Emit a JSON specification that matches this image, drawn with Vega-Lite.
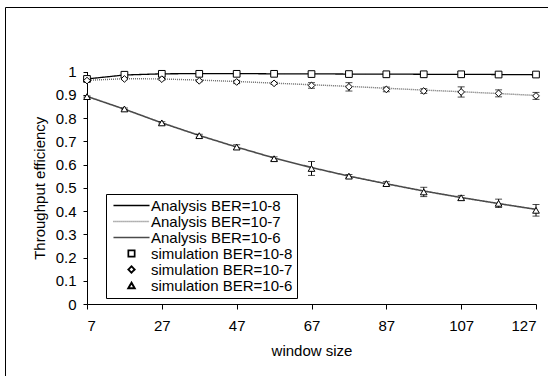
{
  "$schema": "https://vega.github.io/schema/vega-lite/v6.json",
  "width": 560,
  "height": 380,
  "autosize": "none",
  "padding": {"left": 5, "top": 7, "right": 0, "bottom": 0},
  "background": "white",
  "config": {
    "view": {"stroke": "#000000", "strokeWidth": 1},
    "font": "Liberation Sans",
    "axis": {"grid": false, "domainColor": "#000000", "tickColor": "#000000", "labelColor": "#000000", "titleColor": "#000000", "labelFontSize": 15, "titleFontSize": 15, "titleFontWeight": "normal", "labelFont": "Liberation Sans", "titleFont": "Liberation Sans", "labelOverlap": false},
    "axisY": {"tickCount": 11, "values": [0, 0.1, 0.2, 0.3, 0.4, 0.5, 0.6, 0.7, 0.8, 0.9, 1]},
    "legend": {"labelFont": "Liberation Sans", "labelFontSize": 15, "labelColor": "#000000"}
  },
  "datasets": {
    "analysis": [
      {"w": 7, "series": "Analysis BER=10-8", "v": 0.968},
      {"w": 17, "series": "Analysis BER=10-8", "v": 0.985},
      {"w": 27, "series": "Analysis BER=10-8", "v": 0.99},
      {"w": 37, "series": "Analysis BER=10-8", "v": 0.991},
      {"w": 47, "series": "Analysis BER=10-8", "v": 0.991},
      {"w": 57, "series": "Analysis BER=10-8", "v": 0.99},
      {"w": 67, "series": "Analysis BER=10-8", "v": 0.99},
      {"w": 77, "series": "Analysis BER=10-8", "v": 0.989},
      {"w": 87, "series": "Analysis BER=10-8", "v": 0.989},
      {"w": 97, "series": "Analysis BER=10-8", "v": 0.988},
      {"w": 107, "series": "Analysis BER=10-8", "v": 0.988},
      {"w": 117, "series": "Analysis BER=10-8", "v": 0.987},
      {"w": 127, "series": "Analysis BER=10-8", "v": 0.986},
      {"w": 7, "series": "Analysis BER=10-7", "v": 0.962},
      {"w": 17, "series": "Analysis BER=10-7", "v": 0.969},
      {"w": 27, "series": "Analysis BER=10-7", "v": 0.968},
      {"w": 37, "series": "Analysis BER=10-7", "v": 0.963},
      {"w": 47, "series": "Analysis BER=10-7", "v": 0.957},
      {"w": 57, "series": "Analysis BER=10-7", "v": 0.95},
      {"w": 67, "series": "Analysis BER=10-7", "v": 0.943},
      {"w": 77, "series": "Analysis BER=10-7", "v": 0.936},
      {"w": 87, "series": "Analysis BER=10-7", "v": 0.928},
      {"w": 97, "series": "Analysis BER=10-7", "v": 0.92},
      {"w": 107, "series": "Analysis BER=10-7", "v": 0.913},
      {"w": 117, "series": "Analysis BER=10-7", "v": 0.905},
      {"w": 127, "series": "Analysis BER=10-7", "v": 0.897},
      {"w": 7, "series": "Analysis BER=10-6", "v": 0.893},
      {"w": 17, "series": "Analysis BER=10-6", "v": 0.838},
      {"w": 27, "series": "Analysis BER=10-6", "v": 0.779},
      {"w": 37, "series": "Analysis BER=10-6", "v": 0.725},
      {"w": 47, "series": "Analysis BER=10-6", "v": 0.675},
      {"w": 57, "series": "Analysis BER=10-6", "v": 0.628},
      {"w": 67, "series": "Analysis BER=10-6", "v": 0.587},
      {"w": 77, "series": "Analysis BER=10-6", "v": 0.55},
      {"w": 87, "series": "Analysis BER=10-6", "v": 0.517},
      {"w": 97, "series": "Analysis BER=10-6", "v": 0.486},
      {"w": 107, "series": "Analysis BER=10-6", "v": 0.458},
      {"w": 117, "series": "Analysis BER=10-6", "v": 0.432},
      {"w": 127, "series": "Analysis BER=10-6", "v": 0.407}
    ],
    "sim": [
      {"w": 7, "series": "simulation BER=10-8", "v": 0.968, "lo": 0.966, "hi": 0.97},
      {"w": 17, "series": "simulation BER=10-8", "v": 0.986, "lo": 0.984, "hi": 0.988},
      {"w": 27, "series": "simulation BER=10-8", "v": 0.99, "lo": 0.988, "hi": 0.992},
      {"w": 37, "series": "simulation BER=10-8", "v": 0.99, "lo": 0.988, "hi": 0.992},
      {"w": 47, "series": "simulation BER=10-8", "v": 0.99, "lo": 0.988, "hi": 0.992},
      {"w": 57, "series": "simulation BER=10-8", "v": 0.99, "lo": 0.988, "hi": 0.992},
      {"w": 67, "series": "simulation BER=10-8", "v": 0.989, "lo": 0.987, "hi": 0.991},
      {"w": 77, "series": "simulation BER=10-8", "v": 0.989, "lo": 0.987, "hi": 0.991},
      {"w": 87, "series": "simulation BER=10-8", "v": 0.988, "lo": 0.986, "hi": 0.99},
      {"w": 97, "series": "simulation BER=10-8", "v": 0.988, "lo": 0.986, "hi": 0.99},
      {"w": 107, "series": "simulation BER=10-8", "v": 0.988, "lo": 0.986, "hi": 0.99},
      {"w": 117, "series": "simulation BER=10-8", "v": 0.987, "lo": 0.985, "hi": 0.989},
      {"w": 127, "series": "simulation BER=10-8", "v": 0.987, "lo": 0.984, "hi": 0.99},
      {"w": 7, "series": "simulation BER=10-7", "v": 0.961, "lo": 0.958, "hi": 0.964},
      {"w": 17, "series": "simulation BER=10-7", "v": 0.968, "lo": 0.965, "hi": 0.971},
      {"w": 27, "series": "simulation BER=10-7", "v": 0.967, "lo": 0.963, "hi": 0.971},
      {"w": 37, "series": "simulation BER=10-7", "v": 0.96, "lo": 0.956, "hi": 0.964},
      {"w": 47, "series": "simulation BER=10-7", "v": 0.955, "lo": 0.948, "hi": 0.962},
      {"w": 57, "series": "simulation BER=10-7", "v": 0.949, "lo": 0.944, "hi": 0.954},
      {"w": 67, "series": "simulation BER=10-7", "v": 0.94, "lo": 0.928, "hi": 0.952},
      {"w": 77, "series": "simulation BER=10-7", "v": 0.934, "lo": 0.916, "hi": 0.952},
      {"w": 87, "series": "simulation BER=10-7", "v": 0.923, "lo": 0.913, "hi": 0.933},
      {"w": 97, "series": "simulation BER=10-7", "v": 0.916, "lo": 0.906, "hi": 0.926},
      {"w": 107, "series": "simulation BER=10-7", "v": 0.912, "lo": 0.89, "hi": 0.934},
      {"w": 117, "series": "simulation BER=10-7", "v": 0.906, "lo": 0.891, "hi": 0.921},
      {"w": 127, "series": "simulation BER=10-7", "v": 0.895, "lo": 0.88, "hi": 0.91},
      {"w": 7, "series": "simulation BER=10-6", "v": 0.892, "lo": 0.889, "hi": 0.895},
      {"w": 17, "series": "simulation BER=10-6", "v": 0.839, "lo": 0.835, "hi": 0.843},
      {"w": 27, "series": "simulation BER=10-6", "v": 0.779, "lo": 0.774, "hi": 0.784},
      {"w": 37, "series": "simulation BER=10-6", "v": 0.724, "lo": 0.718, "hi": 0.73},
      {"w": 47, "series": "simulation BER=10-6", "v": 0.675, "lo": 0.665, "hi": 0.685},
      {"w": 57, "series": "simulation BER=10-6", "v": 0.625, "lo": 0.617, "hi": 0.633},
      {"w": 67, "series": "simulation BER=10-6", "v": 0.583, "lo": 0.553, "hi": 0.613},
      {"w": 77, "series": "simulation BER=10-6", "v": 0.55, "lo": 0.543, "hi": 0.557},
      {"w": 87, "series": "simulation BER=10-6", "v": 0.518, "lo": 0.51, "hi": 0.526},
      {"w": 97, "series": "simulation BER=10-6", "v": 0.482, "lo": 0.462, "hi": 0.502},
      {"w": 107, "series": "simulation BER=10-6", "v": 0.457, "lo": 0.447, "hi": 0.467},
      {"w": 117, "series": "simulation BER=10-6", "v": 0.433, "lo": 0.415, "hi": 0.451},
      {"w": 127, "series": "simulation BER=10-6", "v": 0.403, "lo": 0.378, "hi": 0.428}
    ]
  },
  "layer": [
    {
      "data": {"name": "analysis"},
      "mark": {"type": "line", "strokeCap": "butt"},
      "encoding": {
        "x": {"field": "w", "type": "quantitative",
          "scale": {"domain": [7, 127], "range": [82, 531], "nice": false, "zero": false},
          "axis": {"title": "window size", "values": [7, 27, 47, 67, 87, 107, 127], "offset": -83, "tickSize": 5, "labelPadding": 9, "titlePadding": 10, "format": "d"}},
        "y": {"field": "v", "type": "quantitative",
          "scale": {"domain": [0, 1], "range": [297, 64.5], "nice": false, "zero": false},
          "axis": {"title": "Throughput efficiency", "values": [0, 0.1, 0.2, 0.3, 0.4, 0.5, 0.6, 0.7, 0.8, 0.9, 1], "format": "~g", "offset": -82, "tickSize": 4, "labelPadding": 7, "titlePadding": 8}},
        "detail": {"field": "series"},
        "color": {"field": "series", "type": "nominal",
          "scale": {"domain": ["Analysis BER=10-8", "Analysis BER=10-7", "Analysis BER=10-6", "simulation BER=10-8", "simulation BER=10-7", "simulation BER=10-6"],
                    "range": ["#000000", "#6a6a6a", "#4a4a4a", "#000000", "#000000", "#000000"]},
          "legend": {"title": null, "orient": "none", "legendX": 101, "legendY": 187, "strokeColor": "#000000", "fillColor": "#ffffff", "padding": 4, "rowPadding": -0.8, "symbolOffset": 14, "labelOffset": 12, "encode": {"symbols": {"update": {"fill": {"value": "#ffffff"}}}}}},
        "strokeDash": {"field": "series", "type": "nominal",
          "scale": {"domain": ["Analysis BER=10-8", "Analysis BER=10-7", "Analysis BER=10-6", "simulation BER=10-8", "simulation BER=10-7", "simulation BER=10-6"],
                    "range": [[1, 0], [1, 1], [1, 0], [1, 0], [1, 0], [1, 0]]},
          "legend": {"title": null, "orient": "none", "legendX": 101, "legendY": 187, "strokeColor": "#000000", "fillColor": "#ffffff", "padding": 4, "rowPadding": -0.8, "symbolOffset": 14, "labelOffset": 12, "encode": {"symbols": {"update": {"fill": {"value": "#ffffff"}}}}}},
        "strokeWidth": {"field": "series", "type": "nominal",
          "scale": {"domain": ["Analysis BER=10-8", "Analysis BER=10-7", "Analysis BER=10-6", "simulation BER=10-8", "simulation BER=10-7", "simulation BER=10-6"],
                    "range": [1.3, 2, 2.6, 1, 1, 1]},
          "legend": {"title": null, "orient": "none", "legendX": 101, "legendY": 187, "strokeColor": "#000000", "fillColor": "#ffffff", "padding": 4, "rowPadding": -0.8, "symbolOffset": 14, "labelOffset": 12, "encode": {"symbols": {"update": {"fill": {"value": "#ffffff"}}}}}}
      }
    },
    {
      "data": {"name": "sim"},
      "mark": {"type": "rule", "color": "#000000", "strokeWidth": 1},
      "encoding": {
        "x": {"field": "w", "type": "quantitative"},
        "y": {"field": "lo", "type": "quantitative", "axis": {"title": "Throughput efficiency", "values": [0, 0.1, 0.2, 0.3, 0.4, 0.5, 0.6, 0.7, 0.8, 0.9, 1], "format": "~g", "offset": -82, "tickSize": 4, "labelPadding": 7, "titlePadding": 8}},
        "y2": {"field": "hi"}
      }
    },
    {
      "data": {"name": "sim"},
      "mark": {"type": "tick", "orient": "horizontal", "size": 7, "thickness": 1, "color": "#000000"},
      "encoding": {
        "x": {"field": "w", "type": "quantitative"},
        "y": {"field": "lo", "type": "quantitative", "axis": {"title": "Throughput efficiency", "values": [0, 0.1, 0.2, 0.3, 0.4, 0.5, 0.6, 0.7, 0.8, 0.9, 1], "format": "~g", "offset": -82, "tickSize": 4, "labelPadding": 7, "titlePadding": 8}}
      }
    },
    {
      "data": {"name": "sim"},
      "mark": {"type": "tick", "orient": "horizontal", "size": 7, "thickness": 1, "color": "#000000"},
      "encoding": {
        "x": {"field": "w", "type": "quantitative"},
        "y": {"field": "hi", "type": "quantitative", "axis": {"title": "Throughput efficiency", "values": [0, 0.1, 0.2, 0.3, 0.4, 0.5, 0.6, 0.7, 0.8, 0.9, 1], "format": "~g", "offset": -82, "tickSize": 4, "labelPadding": 7, "titlePadding": 8}}
      }
    },
    {
      "data": {"name": "sim"},
      "mark": {"type": "point", "size": 45, "fill": "#ffffff", "strokeWidth": 1, "opacity": 1},
      "encoding": {
        "x": {"field": "w", "type": "quantitative"},
        "y": {"field": "v", "type": "quantitative", "axis": {"title": "Throughput efficiency", "values": [0, 0.1, 0.2, 0.3, 0.4, 0.5, 0.6, 0.7, 0.8, 0.9, 1], "format": "~g", "offset": -82, "tickSize": 4, "labelPadding": 7, "titlePadding": 8}},
        "color": {"field": "series", "type": "nominal"},
        "shape": {"field": "series", "type": "nominal",
          "scale": {"domain": ["Analysis BER=10-8", "Analysis BER=10-7", "Analysis BER=10-6", "simulation BER=10-8", "simulation BER=10-7", "simulation BER=10-6"],
                    "range": ["M-5.7,0H5.7", "M-5.7,0H5.7", "M-5.7,0H5.7", "square", "diamond", "triangle-up"]},
          "legend": {"title": null, "orient": "none", "legendX": 101, "legendY": 187, "strokeColor": "#000000", "fillColor": "#ffffff", "padding": 4, "rowPadding": -0.8, "symbolOffset": 14, "labelOffset": 12, "symbolSize": 40, "encode": {"symbols": {"update": {"fill": {"value": "#ffffff"}}}}}}
      }
    }
  ]
}
